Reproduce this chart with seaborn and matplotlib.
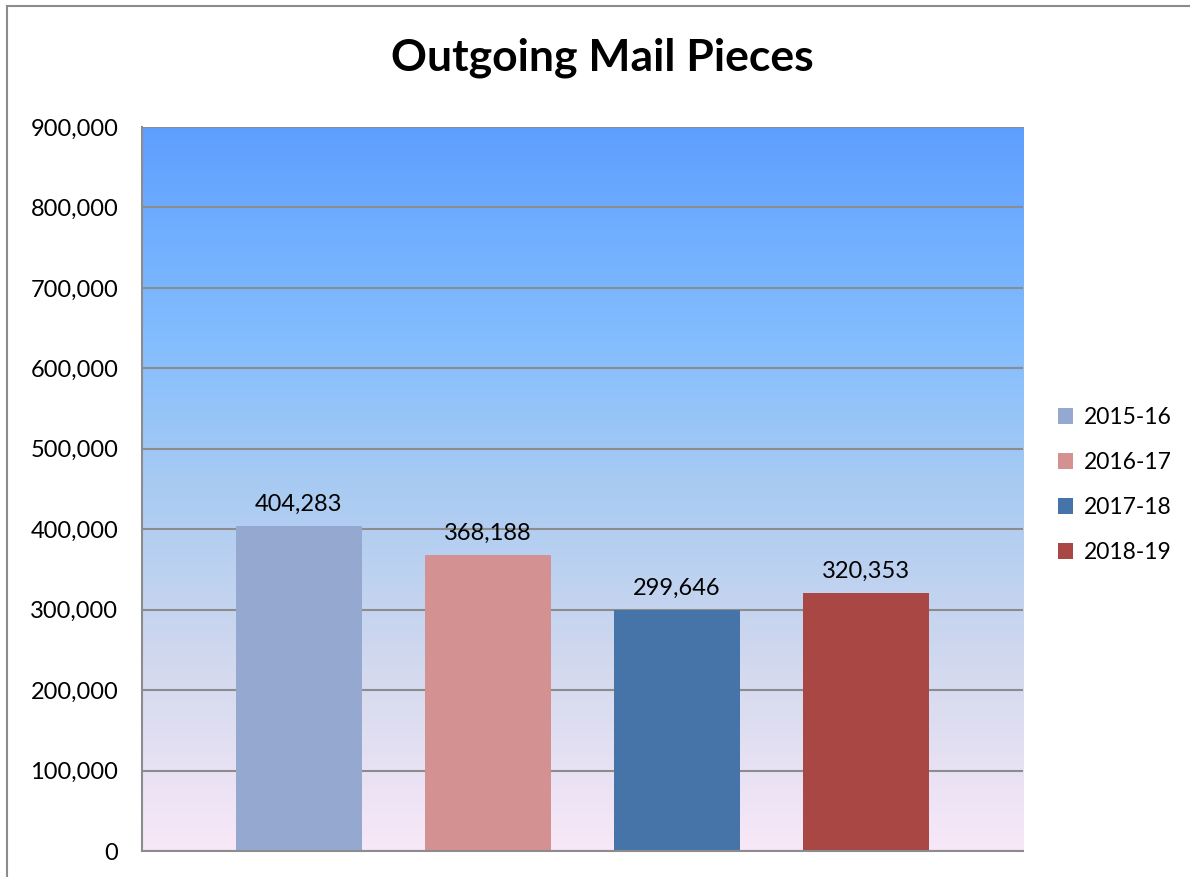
import numpy as np
import pandas as pd
import matplotlib
matplotlib.use("Agg")
import matplotlib.pyplot as plt
import seaborn as sns
from matplotlib.colors import LinearSegmentedColormap
from matplotlib.patches import Patch, Rectangle
from matplotlib.ticker import FuncFormatter

# Data
years = ["2015-16", "2016-17", "2017-18", "2018-19"]
pieces = [404283, 368188, 299646, 320353]
bar_colors = ["#95A9D0", "#D39191", "#4674A8", "#A94745"]

df = pd.DataFrame({"year": years, "pieces": pieces})

sns.set_style("white")
plt.rcParams["font.family"] = ["Lato", "DejaVu Sans"]
plt.rcParams["text.color"] = "black"
plt.rcParams["ytick.color"] = "black"

fig = plt.figure(figsize=(11.9, 8.77), dpi=100)
ax = fig.add_axes([142 / 1190, 26 / 877, 881 / 1190, 724 / 877])

# Gradient background (pink at bottom to blue at top)
grad_cmap = LinearSegmentedColormap.from_list(
    "bg",
    [(0.0, "#F8E8F8"), (0.25, "#D3D9EE"), (0.5, "#A9CBF2"),
     (0.7, "#84BEFE"), (1.0, "#5E9FFF")],
)
grad = np.linspace(0, 1, 256).reshape(-1, 1)
ax.imshow(grad, cmap=grad_cmap, origin="lower", aspect="auto",
          extent=[0, 1, 0, 1], transform=ax.transAxes, zorder=0)

sns.barplot(data=df, x="year", y="pieces", hue="year", palette=bar_colors,
            width=0.667, dodge=False, legend=False, ax=ax, zorder=3,
            saturation=1, edgecolor="none", linewidth=0)

ax.set_xlim(-0.83, 3.83)
ax.set_ylim(0, 900000)
ax.set_yticks(np.arange(0, 900001, 100000))
ax.yaxis.set_major_formatter(FuncFormatter(lambda v, p: f"{int(v):,}"))
ax.tick_params(axis="y", labelsize=17, pad=17, length=0, labelcolor="black")
ax.set_xticks([])
ax.set_xlabel("")
ax.set_ylabel("")
ax.grid(axis="y", color="#8C8C8C", linewidth=1.5, zorder=1)
for gl in ax.get_ygridlines():
    gl.set_zorder(1)

for side in ["top", "right"]:
    ax.spines[side].set_visible(False)
for side in ["left", "bottom"]:
    ax.spines[side].set_color("#8C8C8C")
    ax.spines[side].set_linewidth(1.5)
    ax.spines[side].set_zorder(4)

# Data labels
for i, v in enumerate(pieces):
    ax.annotate(f"{v:,}", (i, v), xytext=(0, 8), textcoords="offset points",
                ha="center", va="bottom", fontsize=17, color="black", zorder=5)

fig.suptitle("Outgoing Mail Pieces", x=602 / 1190, y=1 - 58 / 877,
             va="center", fontsize=32, fontweight="bold", color="black")

handles = [Patch(facecolor=c, edgecolor="none", label=y)
           for c, y in zip(bar_colors, years)]
fig.legend(handles=handles, loc="center left",
           bbox_to_anchor=(1037 / 1190, 1 - 485 / 877), frameon=False,
           fontsize=16.5, handlelength=0.65, handleheight=0.65,
           handletextpad=0.5, labelspacing=1.05)

# Outer chart border
fig.patches.append(Rectangle((7 / 1190, -0.5), 2, 1.5 - 6 / 877, fill=False,
                             edgecolor="#8C8C8C", linewidth=1.5,
                             transform=fig.transFigure, figure=fig))

fig.savefig("out.png", dpi=100)
